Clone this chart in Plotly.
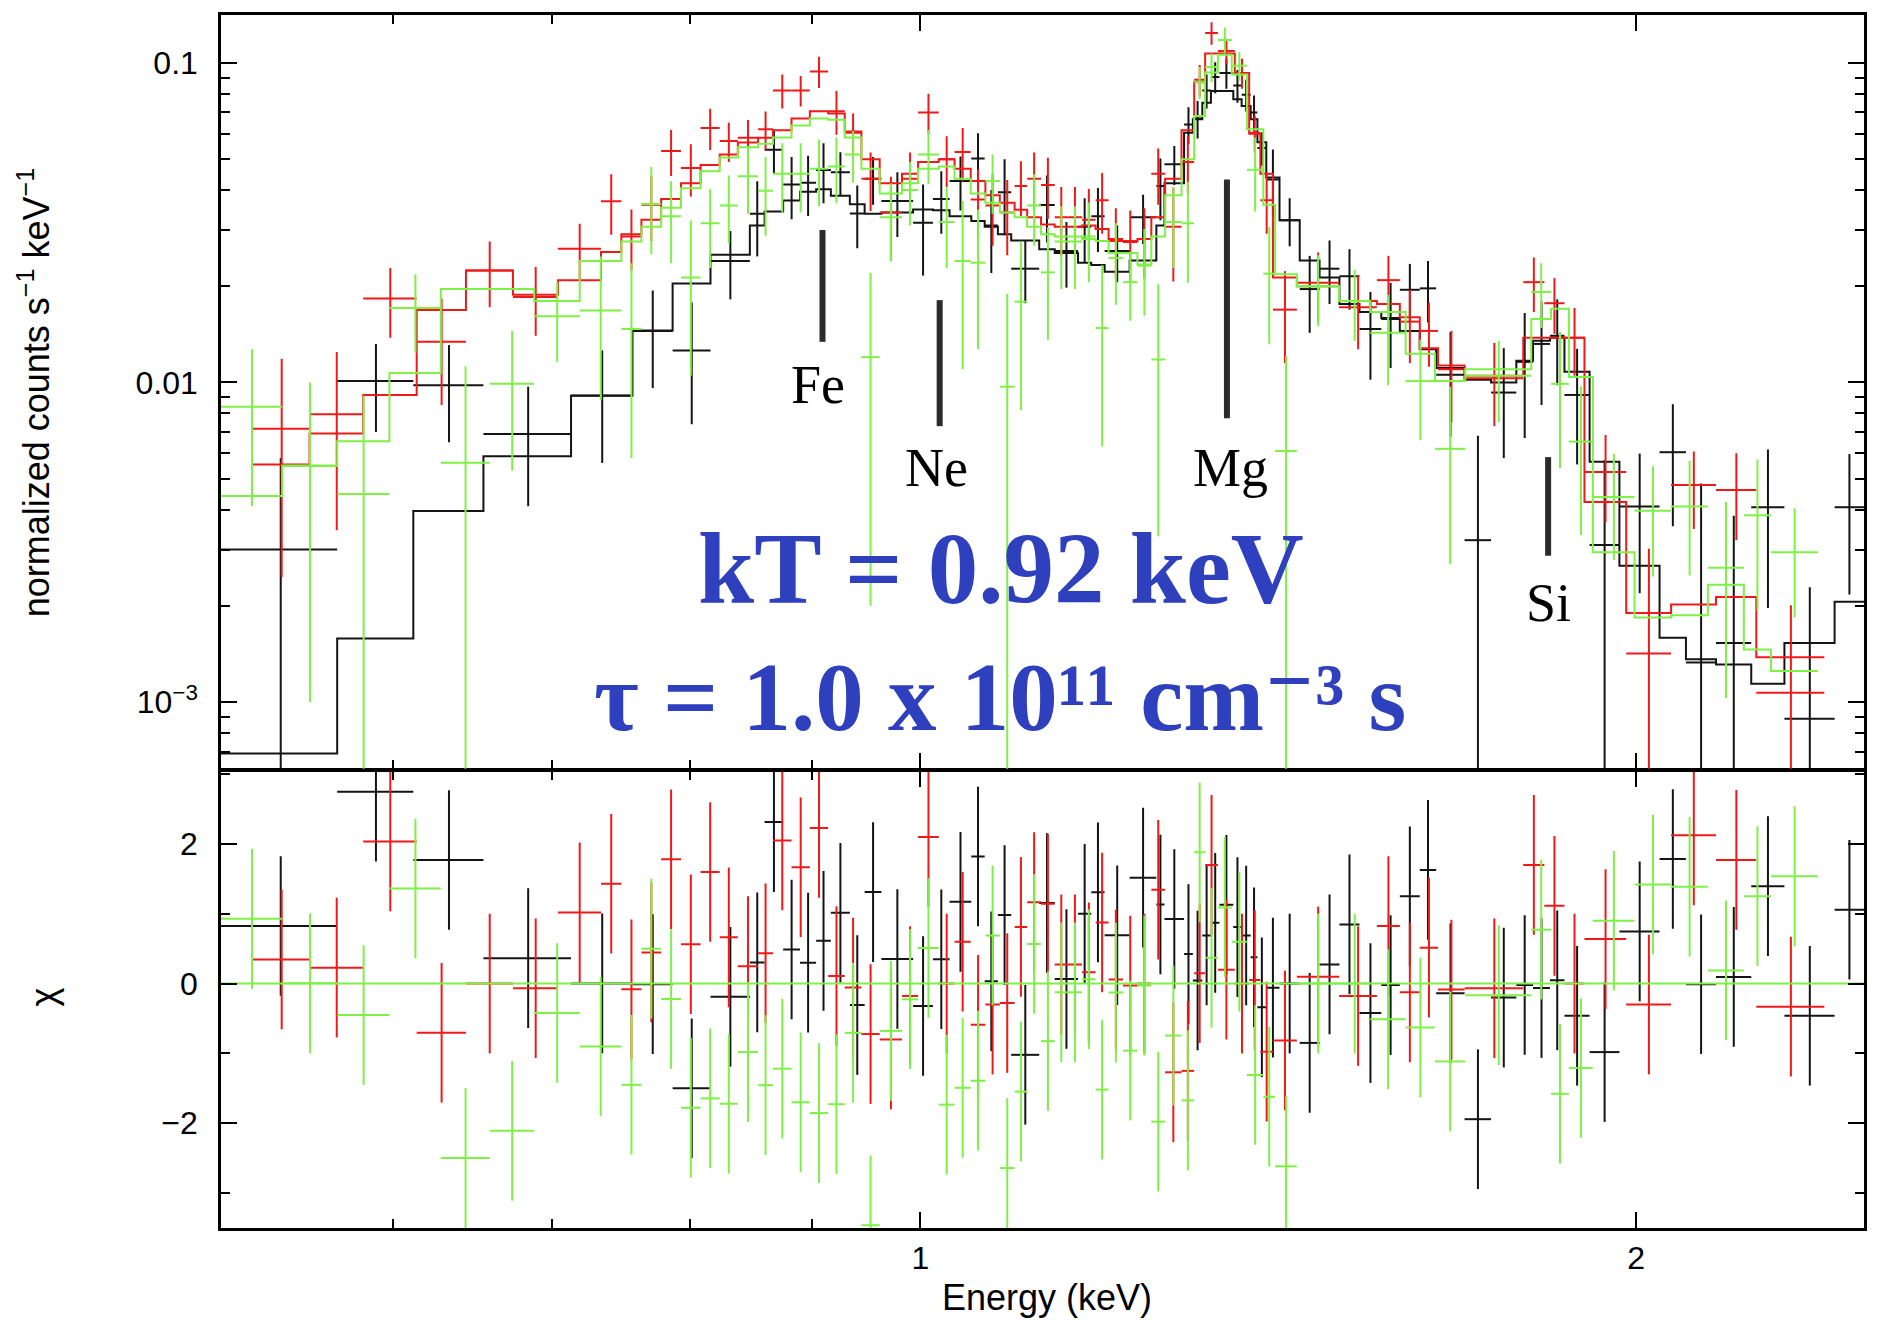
import numpy as np
import plotly.graph_objects as go

# ---------------- data ----------------
# Dataset 1 (black): bin edges [keV], model, data, 1-sigma error  (normalized counts s^-1 keV^-1)
blk_edges = [0.508, 0.5685, 0.612, 0.655, 0.713, 0.7567, 0.7867, 0.8161, 0.8478, 0.860,
             0.8756, 0.890, 0.904, 0.917, 0.934, 0.9475, 0.963, 0.993, 1.0123, 1.0287,
             1.0506, 1.0643, 1.078, 1.092, 1.122, 1.139, 1.165, 1.180, 1.1954, 1.2247,
             1.2568, 1.2667, 1.291, 1.302, 1.314, 1.325, 1.336, 1.354, 1.365, 1.377,
             1.386, 1.398, 1.416, 1.444, 1.472, 1.5006, 1.530, 1.5627, 1.591, 1.622,
             1.648, 1.694, 1.738, 1.781, 1.810, 1.840, 1.866, 1.912, 1.968, 2.046,
             2.099, 2.161, 2.236, 2.309, 2.424, 2.494]
blk_model = [0.00069, 0.00158, 0.00396, 0.00588, 0.00909, 0.01454, 0.0204, 0.0251, 0.0310, 0.0343,
             0.0371, 0.0395, 0.0402, 0.0384, 0.0361, 0.0337, 0.0340, 0.0348, 0.0346, 0.0331,
             0.0320, 0.0307, 0.0291, 0.0278, 0.0261, 0.0254, 0.0237, 0.0233, 0.0222, 0.0241,
             0.0310, 0.0420, 0.0605, 0.0666, 0.0751, 0.0817, 0.0817, 0.0769, 0.0733, 0.0666,
             0.0564, 0.0438, 0.0322, 0.0241, 0.0213, 0.0176, 0.0166, 0.0159, 0.0145, 0.0127,
             0.0111, 0.0102, 0.0100, 0.0117, 0.0135, 0.0138, 0.0108, 0.00565, 0.00267, 0.00159,
             0.00136, 0.00131, 0.00114, 0.00153, 0.00206]
blk_data = [0.0030, 0.0101, 0.0098, 0.0069, 0.0091, 0.0145, 0.0126, 0.0240, 0.0337, 0.0535,
            0.0416, 0.0422, 0.0462, 0.0455, 0.0338, 0.0434, 0.0370, 0.0316, 0.0375, 0.0427,
            0.0502, 0.0310, 0.0394, 0.0227, 0.0359, 0.0258, 0.0307, 0.0331, 0.0258, 0.0329,
            0.0412, 0.0482, 0.0641, 0.0670, 0.0820, 0.0904, 0.0930, 0.0850, 0.0795, 0.0700,
            0.0542, 0.0432, 0.0322, 0.0196, 0.0227, 0.0215, 0.0147, 0.0158, 0.0195, 0.0197,
            0.01057, 0.00321, 0.0093, 0.0116, 0.0132, 0.0140, 0.00914, 0.0031, 0.00409, 0.00605,
            0.00133, 0.00153, 0.00407, 0.000886, 0.00407]
blk_err = [0.0028, 0.0031, 0.0033, 0.0028, 0.0035, 0.0049, 0.0052, 0.0058, 0.0089, 0.0083,
           0.0092, 0.0090, 0.0098, 0.0070, 0.0075, 0.0074, 0.0085, 0.0100, 0.0083, 0.0082,
           0.0100, 0.0090, 0.0105, 0.0050, 0.0085, 0.0060, 0.0070, 0.0075, 0.0052, 0.0058,
           0.0090, 0.0067, 0.0085, 0.0090, 0.0100, 0.0100, 0.0100, 0.0100, 0.0090, 0.0090,
           0.0065, 0.0104, 0.0055, 0.0053, 0.0051, 0.0046, 0.0045, 0.0047, 0.0040, 0.0043,
           0.0038, 0.0036, 0.0035, 0.0049, 0.0047, 0.0042, 0.0036, 0.0026, 0.0019, 0.0025,
           0.0035, 0.0023, 0.0021, 0.0014, 0.0019]

# Dataset 2 (red)
red_edges = [0.524, 0.5535, 0.583, 0.614, 0.644, 0.674, 0.704, 0.734, 0.7486, 0.7633,
             0.778, 0.7931, 0.8083, 0.8234, 0.838, 0.8546, 0.867, 0.8827, 0.8985, 0.9146,
             0.9294, 0.9445, 0.9614, 0.9824, 0.9978, 1.018, 1.0337, 1.050, 1.065, 1.080,
             1.0956, 1.109, 1.124, 1.139, 1.1535, 1.1695, 1.185, 1.200, 1.2169, 1.234,
             1.2507, 1.2675, 1.2878, 1.3037, 1.3176, 1.334, 1.356, 1.375, 1.390, 1.407,
             1.440, 1.500, 1.556, 1.591, 1.622, 1.651, 1.694, 1.793, 1.830, 1.866,
             1.9025, 1.981, 2.069, 2.161, 2.247, 2.400]
red_model = [0.00554, 0.00692, 0.00914, 0.01685, 0.0224, 0.0188, 0.0209, 0.0256, 0.0291, 0.0323,
             0.0375, 0.0420, 0.0479, 0.0517, 0.0563, 0.0583, 0.0615, 0.0670, 0.0706, 0.0694,
             0.0610, 0.0499, 0.0420, 0.0450, 0.0490, 0.0499, 0.0466, 0.0427, 0.0385, 0.0365,
             0.0347, 0.0329, 0.0312, 0.0307, 0.0307, 0.0310, 0.0302, 0.0277, 0.0277, 0.0281,
             0.0329, 0.0434, 0.0615, 0.0870, 0.1070, 0.1070, 0.0930, 0.0600, 0.0450, 0.0213,
             0.0200, 0.0180, 0.0176, 0.0160, 0.0128, 0.0113, 0.0105, 0.0138, 0.0138, 0.0138,
             0.00423, 0.0019, 0.00202, 0.00213, 0.00138]
red_data = [0.00716, 0.00795, 0.0183, 0.0134, 0.0224, 0.0185, 0.0262, 0.0369, 0.0286, 0.0360,
            0.0530, 0.0469, 0.0626, 0.0570, 0.0583, 0.0620, 0.0820, 0.0820, 0.0940, 0.0706,
            0.0605, 0.0434, 0.0340, 0.0434, 0.0700, 0.0499, 0.0526, 0.0374, 0.0358, 0.0340,
            0.0412, 0.0434, 0.0415, 0.0329, 0.0329, 0.0323, 0.0372, 0.0281, 0.0275, 0.0281,
            0.0450, 0.0307, 0.0490, 0.0885, 0.1240, 0.1090, 0.0930, 0.0604, 0.0372, 0.0169,
            0.0205, 0.0172, 0.0209, 0.0155, 0.0145, 0.0110, 0.0103, 0.0206, 0.0177, 0.0138,
            0.00525, 0.00142, 0.00478, 0.00461, 0.00107]
red_err = [0.0047, 0.0045, 0.0045, 0.0049, 0.0052, 0.0045, 0.0052, 0.0079, 0.0062, 0.0083,
           0.0087, 0.0087, 0.0092, 0.0080, 0.0080, 0.0085, 0.0100, 0.0090, 0.0105, 0.0110,
           0.0090, 0.0090, 0.0100, 0.0090, 0.0100, 0.0090, 0.0100, 0.0090, 0.0090, 0.0090,
           0.0080, 0.0090, 0.0090, 0.0080, 0.0080, 0.0080, 0.0080, 0.0070, 0.0070, 0.0070,
           0.0090, 0.0100, 0.0100, 0.0100, 0.0100, 0.0100, 0.0100, 0.0080, 0.0080, 0.0054,
           0.0050, 0.0045, 0.0040, 0.0040, 0.0033, 0.0035, 0.0030, 0.0040, 0.0035, 0.0033,
           0.0016, 0.0016, 0.0013, 0.0014, 0.00094]

# Dataset 3 (green)
grn_edges = [0.508, 0.539, 0.5685, 0.598, 0.6285, 0.659, 0.688, 0.719, 0.7486, 0.7633,
             0.778, 0.7931, 0.8083, 0.8234, 0.838, 0.8546, 0.867, 0.8827, 0.8985, 0.9146,
             0.9294, 0.9445, 0.9614, 0.9824, 0.9978, 1.018, 1.0337, 1.050, 1.065, 1.080,
             1.0956, 1.109, 1.124, 1.139, 1.1535, 1.1695, 1.185, 1.200, 1.2169, 1.234,
             1.2507, 1.2675, 1.2878, 1.3037, 1.3176, 1.334, 1.352, 1.372, 1.394, 1.410,
             1.440, 1.500, 1.546, 1.600, 1.646, 1.695, 1.807, 1.842, 1.874, 1.918,
             1.997, 2.069, 2.144, 2.220, 2.279, 2.385]
grn_model = [0.00441, 0.00548, 0.00655, 0.0107, 0.0196, 0.0196, 0.0180, 0.0240, 0.0276, 0.0307,
             0.0352, 0.0405, 0.0458, 0.0506, 0.0545, 0.0558, 0.0584, 0.0637, 0.0670, 0.0664,
             0.0584, 0.0466, 0.0390, 0.0420, 0.0466, 0.0474, 0.0434, 0.0390, 0.0365, 0.0340,
             0.0329, 0.0307, 0.0291, 0.0286, 0.0286, 0.0281, 0.0277, 0.0254, 0.0254, 0.0234,
             0.0286, 0.0385, 0.0499, 0.0682, 0.0933, 0.1060, 0.0920, 0.0620, 0.0360, 0.0218,
             0.0200, 0.0180, 0.0166, 0.0123, 0.0101, 0.0110, 0.0158, 0.0170, 0.0104, 0.00294,
             0.00184, 0.00187, 0.00233, 0.00146, 0.00125]
grn_data = [0.0084, 0.0055, 0.00448, 0.0171, 0.00561, 0.0099, 0.0161, 0.0168, 0.0147, 0.0362,
            0.0331, 0.0213, 0.0315, 0.0358, 0.0442, 0.0398, 0.0450, 0.0450, 0.0466, 0.0474,
            0.0517, 0.0120, 0.0329, 0.0400, 0.0517, 0.0318, 0.0240, 0.0237, 0.0427, 0.0097,
            0.0179, 0.0358, 0.0221, 0.0276, 0.0276, 0.0286, 0.0148, 0.0245, 0.0206, 0.0232,
            0.0118, 0.0318, 0.0315, 0.0870, 0.0970, 0.1180, 0.0980, 0.0463, 0.0219, 0.0061,
            0.0200, 0.0180, 0.0143, 0.0101, 0.0062, 0.0105, 0.0192, 0.0099, 0.00653, 0.00438,
            0.00397, 0.00409, 0.00263, 0.00384, 0.00294]
grn_err = [0.0043, 0.0045, 0.0046, 0.0047, 0.0056, 0.0046, 0.0045, 0.0080, 0.0089, 0.0110,
           0.0095, 0.0108, 0.0087, 0.0086, 0.0105, 0.0110, 0.0110, 0.0110, 0.0110, 0.0110,
           0.0095, 0.0100, 0.0090, 0.0090, 0.0100, 0.0090, 0.0130, 0.0110, 0.0090, 0.0092,
           0.0097, 0.0090, 0.0085, 0.0080, 0.0080, 0.0080, 0.0085, 0.0070, 0.0050, 0.0070,
           0.0085, 0.0090, 0.0110, 0.0100, 0.0100, 0.0110, 0.0100, 0.0120, 0.0087, 0.0060,
           0.0050, 0.0045, 0.0045, 0.0035, 0.0035, 0.0030, 0.0044, 0.0045, 0.0032, 0.0016,
           0.0015, 0.0016, 0.0016, 0.0019, 0.0011]

# emission line markers
line_names = ["Fe", "Ne", "Mg", "Si"]
line_energy = [0.9096, 1.0189, 1.3457, 1.8367]
line_top = [0.0300, 0.0181, 0.0432, 0.00584]
line_bottom = [0.0134, 0.0073, 0.00773, 0.00287]
label_energy = [0.906, 1.016, 1.351, 1.837]
label_level = [0.0098, 0.0054, 0.0054, 0.00204]

# fit result text
fit_text = ["<b>kT = 0.92 keV</b>",
            "<b>\u03c4 = 1.0 x 10\u00b9\u00b9 cm\u207b\u00b3 s</b>"]
fit_energy = [1.081, 1.080]
fit_level = [0.0026, 0.00103]
fit_size = [101, 97]

# axes
x_range = [0.508, 2.494]
x_tickvals = [1, 2]
x_ticktext = ["1", "2"]
x_minor = [0.6, 0.7, 0.8, 0.9]
y_range = [6.18e-4, 0.1412]
y_tickvals = [0.001, 0.01, 0.1]
y_ticktext = ["10<sup>\u22123</sup>", "0.01", "0.1"]
y_minor = [0.0007, 0.0008, 0.0009, 0.002, 0.003, 0.004, 0.005, 0.006, 0.007, 0.008, 0.009,
           0.02, 0.03, 0.04, 0.05, 0.06, 0.07, 0.08, 0.09]
chi_range = [-3.5, 3.04]
chi_tickvals = [-2, 0, 2]
chi_ticktext = ["\u22122", "0", "2"]
chi_minor = [-3, -1, 1, 3]

colors = {"black": "#141414", "red": "#ee1a1a", "green": "#7ef046"}

# ---------------- figure ----------------
fig = go.Figure()
sets = [("black", blk_edges, blk_model, blk_data, blk_err),
        ("red", red_edges, red_model, red_data, red_err),
        ("green", grn_edges, grn_model, grn_data, grn_err)]

for name, edges, model, data, err in sets:
    col = colors[name]
    e = np.asarray(edges, float)
    lo, hi = e[:-1], e[1:]
    c = 0.5 * (lo + hi)
    m = np.asarray(model, float)
    d = np.asarray(data, float)
    s = np.asarray(err, float)
    chi = (d - m) / s
    ex = dict(type="data", symmetric=False, array=hi - c, arrayminus=c - lo,
              width=0, thickness=2, color=col)
    fig.add_trace(go.Scatter(x=c, y=d, xaxis="x2", yaxis="y2", mode="markers",
                             marker=dict(size=2, color=col, opacity=0),
                             error_x=ex,
                             error_y=dict(type="data", array=s, width=0, thickness=2, color=col),
                             hoverinfo="skip", showlegend=False))
    fig.add_trace(go.Scatter(x=np.repeat(e, 2)[1:-1], y=np.repeat(m, 2), xaxis="x2", yaxis="y2",
                             mode="lines", line=dict(color=col, width=2),
                             hoverinfo="skip", showlegend=False))
    fig.add_trace(go.Scatter(x=c, y=chi, xaxis="x", yaxis="y", mode="markers",
                             marker=dict(size=2, color=col, opacity=0),
                             error_x=ex,
                             error_y=dict(type="data", array=np.ones_like(chi), width=0,
                                          thickness=2, color=col),
                             hoverinfo="skip", showlegend=False))

# zero line of residuals
fig.add_trace(go.Scatter(x=x_range, y=[0, 0], xaxis="x", yaxis="y", mode="lines",
                         line=dict(color=colors["green"], width=2),
                         hoverinfo="skip", showlegend=False))

# line markers
for E, t, b in zip(line_energy, line_top, line_bottom):
    fig.add_trace(go.Scatter(x=[E, E], y=[b, t], xaxis="x2", yaxis="y2", mode="lines",
                             line=dict(color="#2b2b2b", width=6),
                             hoverinfo="skip", showlegend=False))

annotations = []
for nm, E, v in zip(line_names, label_energy, label_level):
    annotations.append(dict(x=np.log10(E), y=np.log10(v), xref="x2", yref="y2", text=nm,
                            showarrow=False, xanchor="center", yanchor="middle",
                            font=dict(family="Liberation Serif", size=54, color="black")))
for txt, E, v, fs in zip(fit_text, fit_energy, fit_level, fit_size):
    annotations.append(dict(x=np.log10(E), y=np.log10(v), xref="x2", yref="y2", text=txt,
                            showarrow=False, xanchor="center", yanchor="middle",
                            font=dict(family="Liberation Serif, DejaVu Serif", size=fs,
                                      color="#2e40bd")))

# axis titles
annotations.append(dict(x=-0.114, y=0.6887, xref="paper", yref="paper",
                        text="normalized counts s<sup>\u22121</sup> keV<sup>\u22121</sup>",
                        textangle=-90, showarrow=False, xanchor="center", yanchor="middle",
                        font=dict(family="Liberation Sans", size=36, color="black")))
annotations.append(dict(x=-0.1078, y=0.1908, xref="paper", yref="paper", text="\u03c7",
                        textangle=-90, showarrow=False, xanchor="center", yanchor="middle",
                        font=dict(family="Liberation Sans", size=36, color="black")))
annotations.append(dict(x=0.5027, y=-0.0576, xref="paper", yref="paper", text="Energy (keV)",
                        showarrow=False, xanchor="center", yanchor="middle",
                        font=dict(family="Liberation Sans", size=36, color="black")))

LW = 2.5
common_ax = dict(showline=True, linewidth=LW, linecolor="black", mirror="ticks",
                 ticks="inside", ticklen=16, tickwidth=2, tickcolor="black",
                 showgrid=False, zeroline=False)

# the page body adds an 8 px offset, so the figure is 8 px smaller than the window
W, H = 1873, 1312
M_L, M_R, M_T, M_B = 213, 17, 4, 92
plot_h = H - M_T - M_B
split = 0.3775
gap = LW / plot_h

fig.update_layout(
    width=W, height=H,
    margin=dict(l=M_L, r=M_R, t=M_T, b=M_B),
    paper_bgcolor="white", plot_bgcolor="white", showlegend=False,
    font=dict(family="Liberation Sans", size=32, color="black"),
    xaxis=dict(domain=[0, 1], anchor="y", type="log",
               range=[np.log10(x_range[0]), np.log10(x_range[1])],
               tickmode="array", tickvals=x_tickvals, ticktext=x_ticktext,
               ticklabelstandoff=0,
               minor=dict(tickmode="array", tickvals=x_minor, ticks="inside", ticklen=9,
                          tickwidth=2, tickcolor="black", showgrid=False),
               **common_ax),
    xaxis2=dict(domain=[0, 1], anchor="y2", type="log",
                range=[np.log10(x_range[0]), np.log10(x_range[1])],
                tickmode="array", tickvals=x_tickvals, showticklabels=False,
                minor=dict(tickmode="array", tickvals=x_minor, ticks="inside", ticklen=9,
                           tickwidth=2, tickcolor="black", showgrid=False),
                **common_ax),
    yaxis=dict(domain=[0, split - gap / 2], anchor="x", range=chi_range,
               tickmode="array", tickvals=chi_tickvals, ticktext=chi_ticktext,
               ticklabelstandoff=14,
               minor=dict(tickmode="array", tickvals=chi_minor, ticks="inside", ticklen=9,
                          tickwidth=2, tickcolor="black", showgrid=False),
               **common_ax),
    yaxis2=dict(domain=[split + gap / 2, 1], anchor="x2", type="log",
                range=[np.log10(y_range[0]), np.log10(y_range[1])],
                tickmode="array", tickvals=y_tickvals, ticktext=y_ticktext,
                ticklabelstandoff=14,
                minor=dict(tickmode="array", tickvals=y_minor, ticks="inside", ticklen=9,
                           tickwidth=2, tickcolor="black", showgrid=False),
                **common_ax),
    annotations=annotations,
)

fig.write_html("out.html")
